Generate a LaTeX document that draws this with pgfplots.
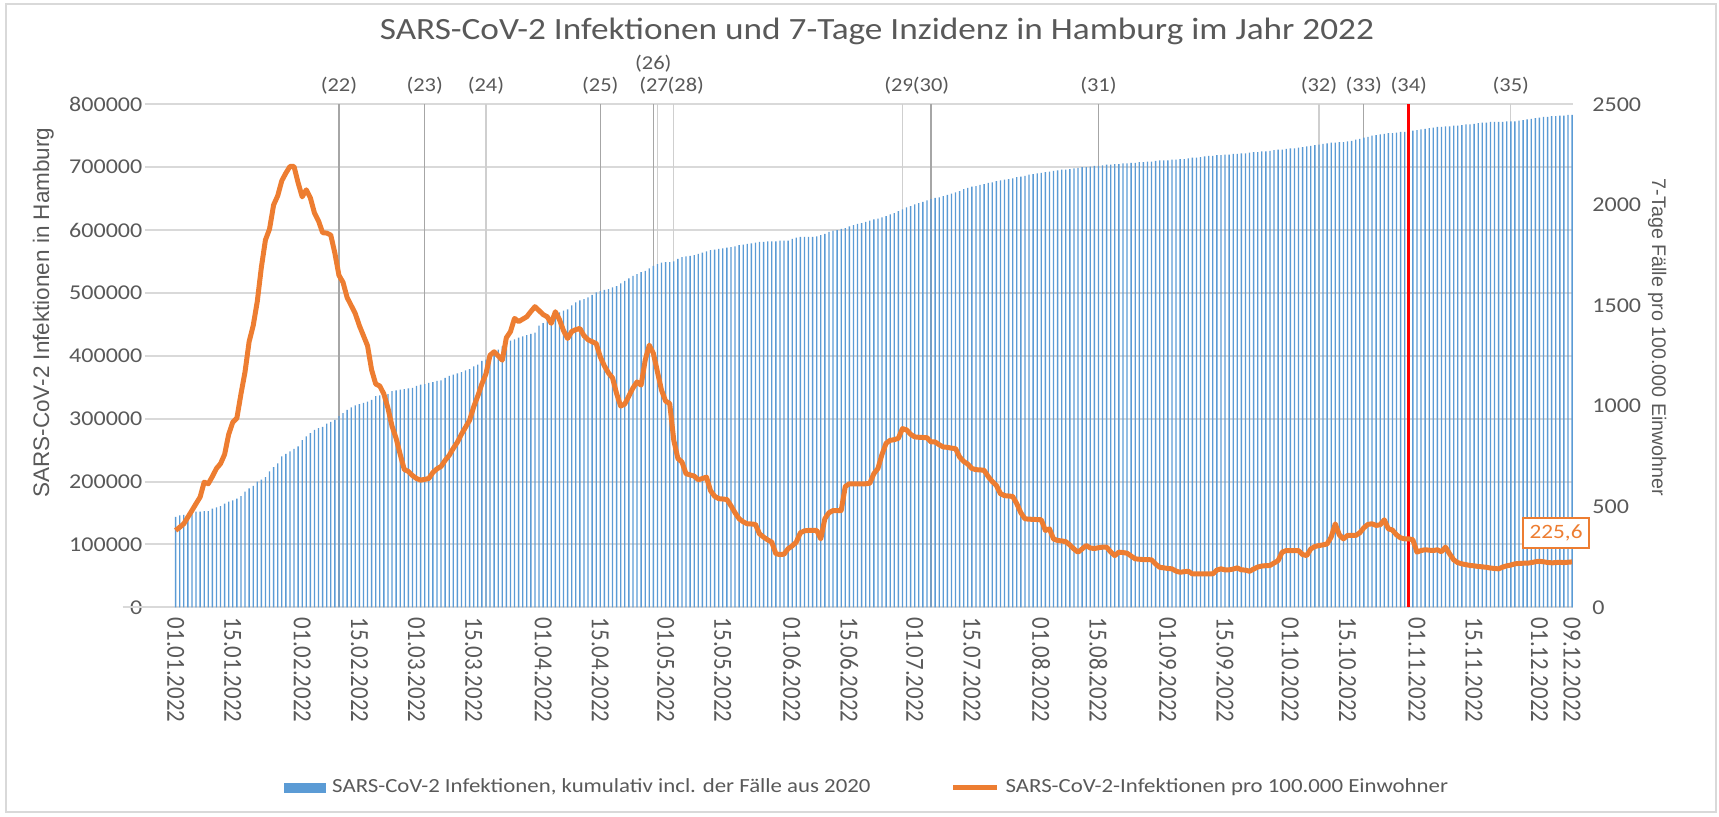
\documentclass[border=0pt]{standalone}
\usepackage{fontspec}
\usepackage{graphicx}
\usepackage{pgfplots}
\usepackage{pgfplotstable}
\pgfplotsset{compat=1.18}
\setmainfont{Carlito}
\newfontfamily\hfont[FakeStretch=1.14]{Carlito}
\newfontfamily\vfont{Carlito}
\newfontfamily\afont{Liberation Sans}
\definecolor{txt}{HTML}{595959}
\definecolor{barblue}{HTML}{5B9BD5}
\definecolor{orangec}{HTML}{ED7D31}
\definecolor{gridc}{HTML}{D9D9D9}
\definecolor{darkl}{HTML}{A6A6A6}
\definecolor{lightl}{HTML}{CFCFCF}
\newcommand\vl[1]{\scalebox{1}[1.14]{#1}}

\pgfplotstableread[row sep=\\]{
c i\\
144000 382\\146000 398\\147000 415\\149000 448\\151000 481\\152000 515\\152000 548\\153000 622\\153000 614\\157000 650\\
159000 690\\161000 714\\165000 760\\168000 860\\170000 920\\173000 940\\177000 1060\\184000 1170\\189000 1320\\193000 1400\\
200000 1520\\203000 1690\\207000 1826\\216000 1880\\223000 2000\\229000 2045\\240000 2120\\244000 2158\\248000 2191\\252000 2191\\
256000 2110\\266000 2040\\272000 2075\\277000 2035\\282000 1960\\285000 1920\\287000 1862\\292000 1860\\295000 1850\\298000 1760\\
304000 1650\\309000 1615\\314000 1540\\318000 1500\\321000 1460\\323000 1400\\325000 1350\\327000 1300\\330000 1180\\336000 1110\\
337000 1100\\338000 1060\\339000 990\\344000 900\\345000 840\\346000 760\\347000 685\\348000 675\\349000 655\\352000 640\\
354000 632\\355000 636\\357000 640\\358000 670\\360000 688\\361000 700\\365000 730\\368000 755\\370000 790\\372000 820\\
374000 860\\377000 895\\379000 930\\383000 996\\386000 1050\\392000 1110\\394000 1160\\397000 1253\\405000 1270\\410000 1250\\
415000 1228\\420000 1340\\424000 1370\\426000 1436\\429000 1420\\431000 1432\\433000 1444\\435000 1470\\437000 1494\\448000 1475\\
452000 1455\\456000 1444\\461000 1411\\466000 1469\\469000 1430\\472000 1375\\474000 1336\\480000 1370\\485000 1380\\488000 1386\\
490000 1350\\493000 1330\\497000 1320\\501000 1311\\503000 1245\\505000 1200\\506000 1165\\509000 1140\\511000 1062\\515000 1000\\
519000 1010\\523000 1050\\527000 1090\\530000 1120\\533000 1104\\535000 1228\\539000 1303\\543000 1262\\546000 1170\\548000 1079\\
549000 1025\\549000 1013\\550000 830\\554000 740\\557000 722\\558000 664\\559000 658\\560000 652\\562000 634\\564000 640\\
566000 647\\568000 580\\569000 552\\570000 540\\571000 538\\572000 536\\573000 505\\574000 470\\576000 440\\577000 425\\
578000 415\\579000 414\\580000 412\\581000 365\\581000 349\\582000 335\\582000 324\\582000 266\\583000 262\\583000 264\\
583000 291\\586000 305\\588000 324\\589000 370\\589000 380\\589000 382\\589000 382\\590000 382\\592000 340\\594000 440\\
597000 470\\599000 481\\600000 481\\602000 481\\603000 600\\606000 614\\608000 614\\610000 614\\611000 614\\613000 614\\
615000 616\\617000 664\\618000 690\\620000 760\\622000 815\\625000 830\\627000 833\\630000 840\\633000 888\\636000 882\\
638000 860\\641000 847\\643000 845\\645000 844\\647000 843\\649000 822\\651000 822\\652000 808\\654000 797\\656000 795\\
658000 791\\660000 789\\662000 747\\665000 725\\667000 712\\669000 690\\670000 684\\672000 683\\673000 681\\675000 650\\
676000 625\\678000 606\\679000 565\\680000 555\\681000 553\\682000 551\\684000 515\\685000 470\\686000 440\\688000 438\\
689000 437\\690000 436\\691000 435\\692000 382\\693000 390\\694000 340\\695000 332\\696000 330\\696000 326\\697000 310\\
698000 290\\699000 274\\700000 290\\700000 307\\701000 295\\702000 292\\702000 296\\703000 299\\704000 299\\704000 275\\
705000 257\\705000 274\\706000 272\\706000 269\\707000 255\\707000 241\\708000 239\\708000 237\\709000 237\\709000 236\\
710000 215\\711000 199\\711000 196\\711000 193\\712000 191\\712000 180\\713000 174\\713000 177\\714000 179\\715000 166\\
715000 166\\716000 166\\717000 166\\718000 166\\718000 166\\719000 185\\719000 191\\720000 186\\720000 186\\721000 190\\
721000 196\\722000 186\\722000 185\\723000 179\\724000 190\\724000 200\\725000 205\\725000 207\\726000 208\\727000 220\\
728000 232\\728000 274\\729000 282\\730000 282\\730000 282\\731000 282\\732000 262\\733000 257\\734000 290\\735000 302\\
736000 307\\737000 310\\738000 315\\739000 349\\739000 415\\740000 360\\740000 340\\741000 357\\742000 357\\744000 357\\
745000 370\\747000 395\\748000 412\\750000 415\\751000 407\\752000 410\\753000 435\\754000 390\\754000 384\\755000 360\\
756000 345\\756000 340\\757000 340\\758000 336\\759000 274\\760000 282\\761000 286\\762000 284\\763000 282\\764000 286\\
764000 276\\765000 299\\765000 266\\766000 236\\766000 222\\767000 216\\768000 212\\768000 208\\769000 206\\770000 203\\
771000 201\\771000 199\\772000 195\\772000 193\\772000 191\\772000 200\\773000 206\\773000 210\\773000 216\\774000 218\\
775000 219\\776000 219\\777000 222\\778000 226\\779000 229\\780000 226\\780000 223\\781000 221\\781000 222\\782000 224\\
782000 222\\783000 224\\783000 225.6\\
}\data

\begin{document}
\begin{tikzpicture}
\path[use as bounding box] (0,0) rectangle (17.19cm,8.17cm);
\draw[gridc, line width=0.45pt] (0.06cm,0.05cm) rectangle (17.16cm,8.13cm);

\begin{axis}[
  at={(1.45cm,2.097cm)}, anchor=south west,
  scale only axis, width=14.283cm, height=5.03cm,
  xmin=-7.5, xmax=342.3, ymin=0, ymax=800000,
  clip=false,
  axis line style={draw=none},
  major tick length=0pt,
  scaled y ticks=false,
  xtick={0,14,31,45,59,73,90,104,120,134,151,165,181,195,212,226,243,257,273,287,304,318,334,342},
  xticklabels={\vl{01.01.2022},\vl{15.01.2022},\vl{01.02.2022},\vl{15.02.2022},\vl{01.03.2022},\vl{15.03.2022},\vl{01.04.2022},\vl{15.04.2022},\vl{01.05.2022},\vl{15.05.2022},\vl{01.06.2022},\vl{15.06.2022},\vl{01.07.2022},\vl{15.07.2022},\vl{01.08.2022},\vl{15.08.2022},\vl{01.09.2022},\vl{15.09.2022},\vl{01.10.2022},\vl{15.10.2022},\vl{01.11.2022},\vl{15.11.2022},\vl{01.12.2022},\vl{09.12.2022}},
  xticklabel style={rotate=-90, anchor=west, inner sep=0pt, font=\vfont\fontsize{6.5}{7}\selectfont, text=txt},
  xticklabel shift=0.1cm,
  ytick={0,100000,200000,300000,400000,500000,600000,700000,800000},
  yticklabels={0,100000,200000,300000,400000,500000,600000,700000,800000},
  yticklabel style={anchor=east, inner sep=0pt, xshift=-0.02cm, font=\hfont\fontsize{6}{7}\selectfont, text=txt},
  ymajorgrids, major grid style={gridc, line width=0.55pt},
  legend columns=2, legend cell align=left,
  legend style={at={(0.507,-0.359)}, anchor=center, draw=none, fill=none,
    font=\hfont\fontsize{5.7}{7}\selectfont, text=txt, inner sep=0pt,
    nodes={inner sep=0.06cm},
    /tikz/every even column/.append style={column sep=0.74cm}},
]
\draw[gridc, line width=0.6pt] ([xshift=-0.223cm]rel axis cs:0,0) -- (rel axis cs:1,0);
\addplot[ycomb, darkl, line width=0.35pt, mark=none, forget plot] coordinates {(40,800000) (61,800000) (104,800000) (117,800000) (185,800000) (226,800000) (291,800000)};
\addplot[ycomb, lightl, line width=0.35pt, mark=none, forget plot] coordinates {(76,800000) (118,800000) (122,800000) (178,800000) (280,800000) (327,800000)};
\addplot[ybar, bar width=0.33, bar shift=0pt, fill=barblue, draw=none,
  legend image code/.code={\fill[barblue] (0cm,-0.05cm) rectangle (0.42cm,0.05cm);}]
  table[x expr=\coordindex, y=c] {\data};
\addlegendentry{SARS-CoV-2 Infektionen, kumulativ incl. der Fälle aus 2020}
\addplot[ycomb, red, line width=0.95pt, mark=none, forget plot] coordinates {(302,800000)};
\addplot[draw=none, mark=none, forget plot, point meta=explicit symbolic, nodes near coords,
  every node near coord/.style={anchor=south, yshift=0.09cm, font=\hfont\fontsize{5.6}{7}\selectfont, text=txt, fill=white, inner sep=0.2pt}]
  coordinates {(40,800000) [(22)] (61,800000) [(23)] (76,800000) [(24)] (104,800000) [(25)] (118,800000) [(27)] (178,800000) [(29)] (185,800000) [(30)] (226,800000) [(31)] (280,800000) [(32)] (291,800000) [(33)] (302,800000) [(34)] (327,800000) [(35)]};
\addplot[draw=none, mark=none, forget plot, point meta=explicit symbolic, nodes near coords,
  every node near coord/.style={anchor=south, yshift=0.09cm, xshift=0.12cm, font=\hfont\fontsize{5.6}{7}\selectfont, text=txt, fill=white, inner sep=0.2pt}]
  coordinates {(122,800000) [(28)]};
\addplot[draw=none, mark=none, forget plot, point meta=explicit symbolic, nodes near coords,
  every node near coord/.style={anchor=south, yshift=0.31cm, font=\hfont\fontsize{5.6}{7}\selectfont, text=txt, fill=white, inner sep=0.2pt}]
  coordinates {(117,800000) [(26)]};
\addlegendimage{legend image code/.code={\draw[orangec, line width=1.42pt] (0cm,0cm) -- (0.44cm,0cm);}}
\addlegendentry{SARS-CoV-2-Infektionen pro 100.000 Einwohner}
\end{axis}

\begin{axis}[
  at={(1.45cm,2.097cm)}, anchor=south west,
  scale only axis, width=14.283cm, height=5.03cm,
  xmin=-7.5, xmax=342.3, ymin=0, ymax=2500,
  clip=false,
  axis x line=none, axis y line*=right,
  y axis line style={draw=none},
  major tick length=0pt,
  ytick={0,500,1000,1500,2000,2500},
  yticklabels={0,500,1000,1500,2000,2500},
  yticklabel style={anchor=west, inner sep=0pt, xshift=0.184cm, font=\hfont\fontsize{6}{7}\selectfont, text=txt},
]
\addplot[orangec, line width=1.42pt, line join=round, mark=none] table[x expr=\coordindex, y=i] {\data};
\node[draw=orangec, line width=0.6pt, fill=white, text=orangec, font=\hfont\fontsize{5.8}{7}\selectfont, minimum width=0.667cm, minimum height=0.30cm, inner sep=0pt] at ([xshift=-0.16cm, yshift=0.286cm]axis cs:342,225.6) {225,6};
\end{axis}

\node[anchor=base, font=\hfont\fontsize{8.8}{10}\selectfont, text=txt] at (8.77cm,7.77cm) {SARS-CoV-2 Infektionen und 7-Tage Inzidenz in Hamburg im Jahr 2022};
\node[anchor=base, rotate=90, font=\afont\fontsize{6.4}{8}\selectfont, text=txt] at (0.49cm,5.045cm) {SARS-CoV-2 Infektionen in Hamburg};
\node[anchor=base, rotate=-90, font=\afont\fontsize{5.6}{7}\selectfont, text=txt] at (16.52cm,4.795cm) {7-Tage Fälle pro 100.000 Einwohner};
\end{tikzpicture}
\end{document}
